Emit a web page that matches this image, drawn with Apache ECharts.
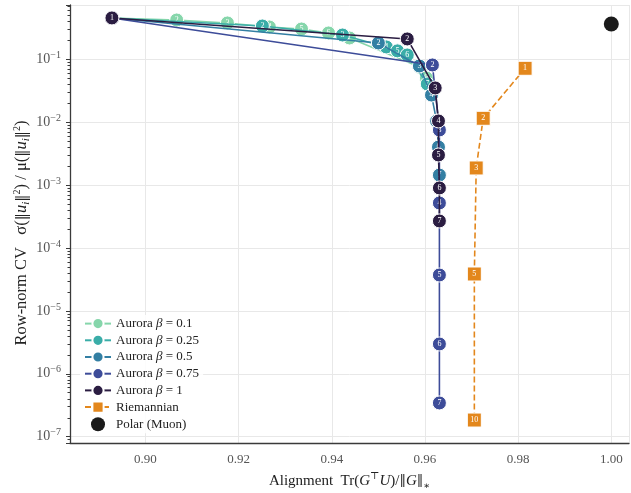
<!DOCTYPE html>
<html>
<head>
<meta charset="utf-8">
<script src="https://cdn.jsdelivr.net/npm/echarts@6/dist/echarts.min.js"></script>
<style>
  html, body { margin: 0; padding: 0; background: #fff; }
  #chart { width: 631px; height: 493px; }
</style>
</head>
<body>
<div id="chart"></div>
<script>
// alignment (x) and row-norm CV (y) per iteration
const b01X = [0.8928, 0.9067, 0.9176, 0.9266, 0.9335, 0.9393, 0.9438, 0.9590, 0.9603];
const b01Y = [0.454, 0.421, 0.378, 0.326, 0.303, 0.262, 0.218, 0.0745, 0.0505];
const b025X = [0.8928, 0.9251, 0.9423, 0.9517, 0.9541, 0.9562, 0.9605];
const b025Y = [0.454, 0.338, 0.243, 0.157, 0.136, 0.117, 0.0405];
const b05X = [0.8928, 0.9500, 0.9588, 0.9614, 0.9625, 0.9629, 0.9631];
const b05Y = [0.454, 0.1815, 0.0782, 0.0270, 0.0104, 0.00402, 0.00144];
const b075X = [0.8928, 0.9616, 0.9631, 0.9631, 0.9631, 0.9631, 0.9631];
const b075Y = [0.454, 0.0812, 0.00751, 0.000519, 0.0000372, 0.00000298, 0.000000344];
const b1X = [0.8928, 0.9562, 0.9622, 0.9629, 0.9629, 0.9631, 0.9631];
const b1Y = [0.454, 0.2104, 0.0350, 0.01045, 0.00301, 0.00090, 0.000269];
const riemIter = [1, 2, 3, 5, 10];
const riemX = [0.9815, 0.9725, 0.9710, 0.9706, 0.9706];
const riemY = [0.0719, 0.01153, 0.00187, 0.0000386, 0.000000184];
const polarX = [1.000];
const polarY = [0.364];

const SERIF = '"Liberation Serif", "DejaVu Serif", serif';
const auroraColors = ['#86d6ab', '#3aada8', '#337fa3', '#3d4c99', '#2b1d42'];
const auroraNames = ['Aurora β=0.1', 'Aurora β=0.25', 'Aurora β=0.5', 'Aurora β=0.75', 'Aurora β=1'];
const auroraX = [b01X, b025X, b05X, b075X, b1X];
const auroraY = [b01Y, b025Y, b05Y, b075Y, b1Y];

function pairs(xs, ys) {
  return xs.map((x, i) => [x, ys[i]]);
}

const chart = echarts.init(document.getElementById('chart'));

let series = [];
for (let k = 0; k < 5; k++) {
  series.push({
    name: auroraNames[k],
    type: 'line',
    data: pairs(auroraX[k], auroraY[k]),
    symbol: 'circle',
    symbolSize: 14,
    lineStyle: { width: 1.6, color: auroraColors[k] },
    itemStyle: { color: auroraColors[k], borderColor: '#fff', borderWidth: 1 },
    label: {
      show: true, position: 'inside', color: '#fff', fontSize: 8, fontFamily: SERIF,
      formatter: p => String(p.dataIndex + 1)
    },
    z: 2 + k
  });
}
series.push({
  name: 'Riemannian',
  type: 'line',
  data: pairs(riemX, riemY),
  symbol: 'rect',
  symbolSize: 14,
  lineStyle: { width: 1.6, type: [6, 3], color: '#e3871c' },
  itemStyle: { color: '#e3871c', borderColor: '#fff', borderWidth: 1 },
  label: {
    show: true, position: 'inside', color: '#fff', fontSize: 8, fontFamily: SERIF,
    formatter: p => String(riemIter[p.dataIndex])
  },
  z: 8
});
series.push({
  name: 'Polar (Muon)',
  type: 'scatter',
  data: pairs(polarX, polarY),
  symbol: 'circle',
  symbolSize: 15,
  itemStyle: { color: '#1b1b1b', opacity: 1 },
  z: 9
});

const legendRich = {
  n: { fontFamily: SERIF, fontSize: 13, color: '#222' },
  g: { fontFamily: SERIF, fontSize: 13, color: '#222', fontStyle: 'italic' }
};
const DV = '"DejaVu Serif", serif';
function nameRich(fs) {
  return {
    n: { fontFamily: SERIF, fontSize: fs, color: '#222', lineHeight: 20 },
    d: { fontFamily: DV, fontSize: fs - 2, color: '#222', lineHeight: 20 },
    i: { fontFamily: SERIF, fontSize: fs, color: '#222', fontStyle: 'italic', lineHeight: 20 },
    sp: { fontFamily: SERIF, fontSize: 10, color: '#222', verticalAlign: 'top', lineHeight: 12 },
    sb: { fontFamily: SERIF, fontSize: 10, color: '#222', verticalAlign: 'bottom', lineHeight: 12 },
    si: { fontFamily: SERIF, fontSize: 11, color: '#222', fontStyle: 'italic', verticalAlign: 'bottom', lineHeight: 12 }
  };
}

let option = {
  backgroundColor: '#fff',
  animation: false,
  grid: { left: 70, top: 5, right: 2, bottom: 50, outerBoundsMode: 'none', containLabel: false },
  legend: {
    orient: 'vertical',
    left: 80,
    top: 315,
    itemWidth: 26,
    itemHeight: 14,
    itemGap: 3.5,
    backgroundColor: 'rgba(255,255,255,0.85)',
    padding: [2, 4],
    data: auroraNames.concat(['Riemannian', 'Polar (Muon)']),
    formatter: function (name) {
      if (name.indexOf('β') >= 0) {
        return '{n|Aurora }{g|β}{n| = ' + name.split('=')[1] + '}';
      }
      return '{n|' + name + '}';
    },
    textStyle: { rich: legendRich }
  },
  xAxis: {
    type: 'value',
    min: 0.8838,
    max: 1.0038,
    name: '{n|Alignment  Tr(}{i|G}{sp|⊤}{i|U}{n|)/}{d|‖}{i|G}{d|‖}{sb|∗}',
    nameLocation: 'middle',
    nameGap: 28,
    nameTextStyle: { rich: nameRich(15) },
    axisLine: { show: true, lineStyle: { color: '#3a3a3a', width: 1.3 } },
    axisTick: { show: false },
    axisLabel: {
      showMinLabel: false, showMaxLabel: false, margin: 10,
      fontFamily: SERIF, fontSize: 13, color: '#555',
      formatter: v => v.toFixed(2)
    },
    splitLine: { show: true, lineStyle: { color: '#e8e8e8', width: 1 } }
  },
  yAxis: {
    type: 'log',
    logBase: 10,
    min: 7.94e-8,
    max: 0.729,
    name: '{n|Row-norm CV   σ(}{d|‖}{i|u}{si|i}{d|‖}{sp|2}{n|) / μ(}{d|‖}{i|u}{si|i}{d|‖}{sp|2}{n|)}',
    nameLocation: 'middle',
    nameGap: 38,
    nameMoveOverlap: false,
    nameRotate: 90,
    nameTextStyle: { rich: nameRich(16.5), padding: [0, 18, 0, 0] },
    axisLine: { show: true, lineStyle: { color: '#3a3a3a', width: 1.3 } },
    axisTick: { show: true, inside: false, length: 4, lineStyle: { color: '#3a3a3a' } },
    minorTick: { show: true, splitNumber: 9, length: 2.5, lineStyle: { color: '#3a3a3a' } },
    axisLabel: {
      showMinLabel: false, showMaxLabel: false, margin: 9,
      formatter: function (v) {
        const e = Math.round(Math.log10(v));
        return '{b|10}{s|−' + (-e) + '}';
      },
      rich: {
        b: { fontFamily: SERIF, fontSize: 14, color: '#555', lineHeight: 18 },
        s: { fontFamily: SERIF, fontSize: 10, color: '#555', verticalAlign: 'top', lineHeight: 10 }
      }
    },
    splitLine: { show: true, lineStyle: { color: '#e8e8e8', width: 1 } }
  },
  series: series
};

chart.setOption(option);
</script>
</body>
</html>
